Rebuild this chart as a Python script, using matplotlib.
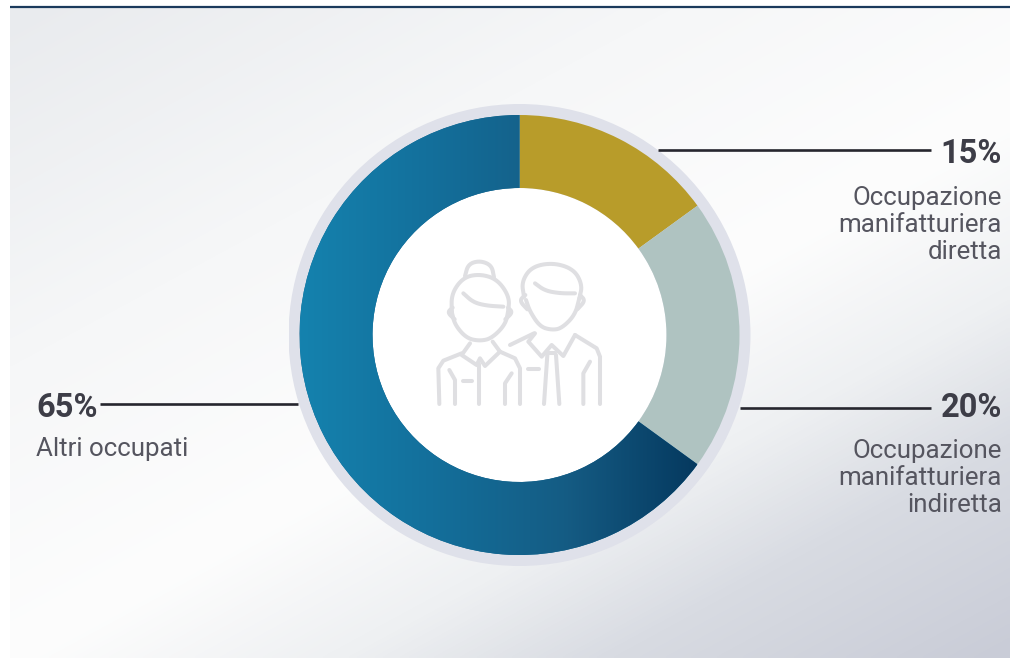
import numpy as np
import matplotlib
matplotlib.use("Agg")
import matplotlib.pyplot as plt
from matplotlib.colors import LinearSegmentedColormap

shares = [15, 20, 65]
pct_labels = ["15%", "20%", "65%"]
names = ["Occupazione\nmanifatturiera\ndiretta", "Occupazione\nmanifatturiera\nindiretta", "Altri occupati"]
slice_colors = ["#b89c2a", "#afc3c1", "#0f6690"]

W, H = 1010, 661
CX, CY = 519.5, 335
R_OUT, R_IN, R_RING = 220, 147, 231

plt.rcParams['font.family'] = ['Roboto', 'DejaVu Sans']

fig = plt.figure(figsize=(W/100, H/100), dpi=100, facecolor="white")

# everything but the donut is placed in pixels
bg = fig.add_axes([0, 0, 1, 1])
bg.set_xlim(0, W)
bg.set_ylim(H, 0)
bg.axis("off")

# panel background, grey top left and bottom right, white across the middle
yy, xx = np.mgrid[0:1:200j, 0:1:300j]
t = (xx + 1.2*yy) / 2.2
bg_cmap = LinearSegmentedColormap.from_list("panel", [(0, "#e9ebee"), (0.3, "#f6f7f8"), (0.55, "#fdfdfd"), (0.7, "#eef0f2"), (0.82, "#d8dbe2"), (1, "#c9ccd7")])
bg.imshow(t, cmap=bg_cmap, extent=(10, W, 658, 8), aspect="auto", zorder=0, interpolation="bilinear")
bg.set_xlim(0, W)
bg.set_ylim(H, 0)
bg.plot([10, W], [6.5, 6.5], color="#1b3a5c", lw=1.6, solid_capstyle="butt", zorder=1)

# donut
ax = fig.add_axes([(CX-R_RING)/W, 1-(CY+R_RING)/H, 2*R_RING/W, 2*R_RING/H])
ax.patch.set_alpha(0)
wedges, _ = ax.pie(shares, colors=slice_colors, startangle=90, counterclock=False, radius=R_OUT,
                   wedgeprops=dict(width=R_OUT-R_IN, linewidth=0))
ax.add_patch(plt.Circle((0, 0), R_RING, color="#dfe1ea", lw=0, zorder=0))
ax.add_patch(plt.Circle((0, 0), R_IN, color="white", lw=0, zorder=0.6))
ax.set_xlim(-R_RING, R_RING)
ax.set_ylim(-R_RING, R_RING)
ax.set_aspect("equal")

# the big slice fades from left to right
grad = np.linspace(0, 1, 256).reshape(1, -1)
blue_cmap = LinearSegmentedColormap.from_list("blue", ["#1582ae", "#136f9b", "#155c84", "#05395f"])
im = ax.imshow(grad, cmap=blue_cmap, extent=(-R_OUT, 177, -R_OUT, R_OUT), aspect="auto", zorder=3)
im.set_clip_path(wedges[2])
ax.set_xlim(-R_RING, R_RING)
ax.set_ylim(-R_RING, R_RING)


def smooth(pts, n=3):
    p = np.array(pts, dtype=float)
    for _ in range(n):
        a, b = p[:-1], p[1:]
        q = np.empty((2*len(a), 2))
        q[0::2] = 0.75*a + 0.25*b
        q[1::2] = 0.25*a + 0.75*b
        p = np.vstack([pts[0], q, pts[-1]])
    return p


# icon outlines, in pixels of the 3x crop around (420, 240)
icon_curves = [
    [(95, 215), (95, 160), (130, 112), (180, 102), (232, 118), (268, 170), (265, 215), (255, 255), (215, 295), (180, 303), (140, 295), (105, 255), (95, 215)],
    [(135, 108), (145, 72), (180, 62), (215, 76), (222, 112)],
    [(130, 160), (160, 187), (200, 197), (250, 200)],
    [(312, 170), (305, 125), (335, 80), (400, 68), (462, 88), (487, 135), (478, 175)],
    [(478, 175), (465, 225), (425, 265), (395, 270), (360, 260), (330, 215), (318, 180)],
    [(345, 130), (375, 152), (420, 160), (465, 160)],
    [(316, 165), (298, 182), (322, 208)],
    [(480, 165), (496, 182), (472, 208)],
    [(98, 203), (82, 217), (104, 238)],
    [(264, 203), (278, 217), (256, 238)],
]
icon_lines = [
    [(150, 310), (125, 345), (170, 375), (180, 355), (195, 378), (240, 335), (218, 305)],
    [(125, 340), (70, 362), (55, 385), (58, 492)],
    [(240, 335), (285, 355), (300, 385), (300, 492)],
    [(105, 492), (105, 420), (88, 390)],
    [(255, 492), (255, 430), (275, 400)],
    [(178, 372), (178, 492)],
    [(128, 422), (155, 422)],
    [(345, 280), (325, 305), (365, 350), (395, 315), (430, 348), (465, 285)],
    [(270, 315), (342, 280)],
    [(465, 285), (530, 325), (540, 350), (540, 492)],
    [(490, 492), (490, 400), (510, 365)],
    [(325, 388), (358, 388)],
    [(382, 345), (372, 492)],
    [(408, 345), (418, 492)],
    [(384, 340), (406, 340)],
]
icon_col = "#dfdfe2"
for c in icon_curves:
    p = smooth(c)
    ax.plot(420 + p[:, 0]/3 - CX, CY - (240 + p[:, 1]/3), color=icon_col, lw=2.9, solid_capstyle="round", zorder=5)
for c in icon_lines:
    p = np.array(c, dtype=float)
    ax.plot(420 + p[:, 0]/3 - CX, CY - (240 + p[:, 1]/3), color=icon_col, lw=2.9,
            solid_capstyle="round", solid_joinstyle="round", zorder=5)
ax.set_xlim(-R_RING, R_RING)
ax.set_ylim(-R_RING, R_RING)

# leader lines and labels
txt = fig.add_axes([0, 0, 1, 1])
txt.set_xlim(0, W)
txt.set_ylim(H, 0)
txt.axis("off")
line_col = "#26262e"
pct_col = "#3d3d47"
name_col = "#55555f"
txt.plot([658, 931], [150, 150], color=line_col, lw=1.9, solid_capstyle="butt")
txt.plot([740, 931], [408, 408], color=line_col, lw=1.9, solid_capstyle="butt")
txt.plot([100, 298], [404, 404], color=line_col, lw=1.9, solid_capstyle="butt")

txt.text(1002, 154, pct_labels[0], ha="right", va="center", fontsize=23.5, fontweight="bold", color=pct_col)
txt.text(1002, 408, pct_labels[1], ha="right", va="center", fontsize=23.5, fontweight="bold", color=pct_col)
txt.text(36, 408, pct_labels[2], ha="left", va="center", fontsize=23.5, fontweight="bold", color=pct_col)
txt.text(1002, 225, names[0], ha="right", va="center", fontsize=18.6, color=name_col, linespacing=1.17)
txt.text(1002, 478, names[1], ha="right", va="center", fontsize=18.6, color=name_col, linespacing=1.17)
txt.text(36, 449, names[2], ha="left", va="center", fontsize=18.6, color=name_col)

fig.savefig("out.png", dpi=100)
